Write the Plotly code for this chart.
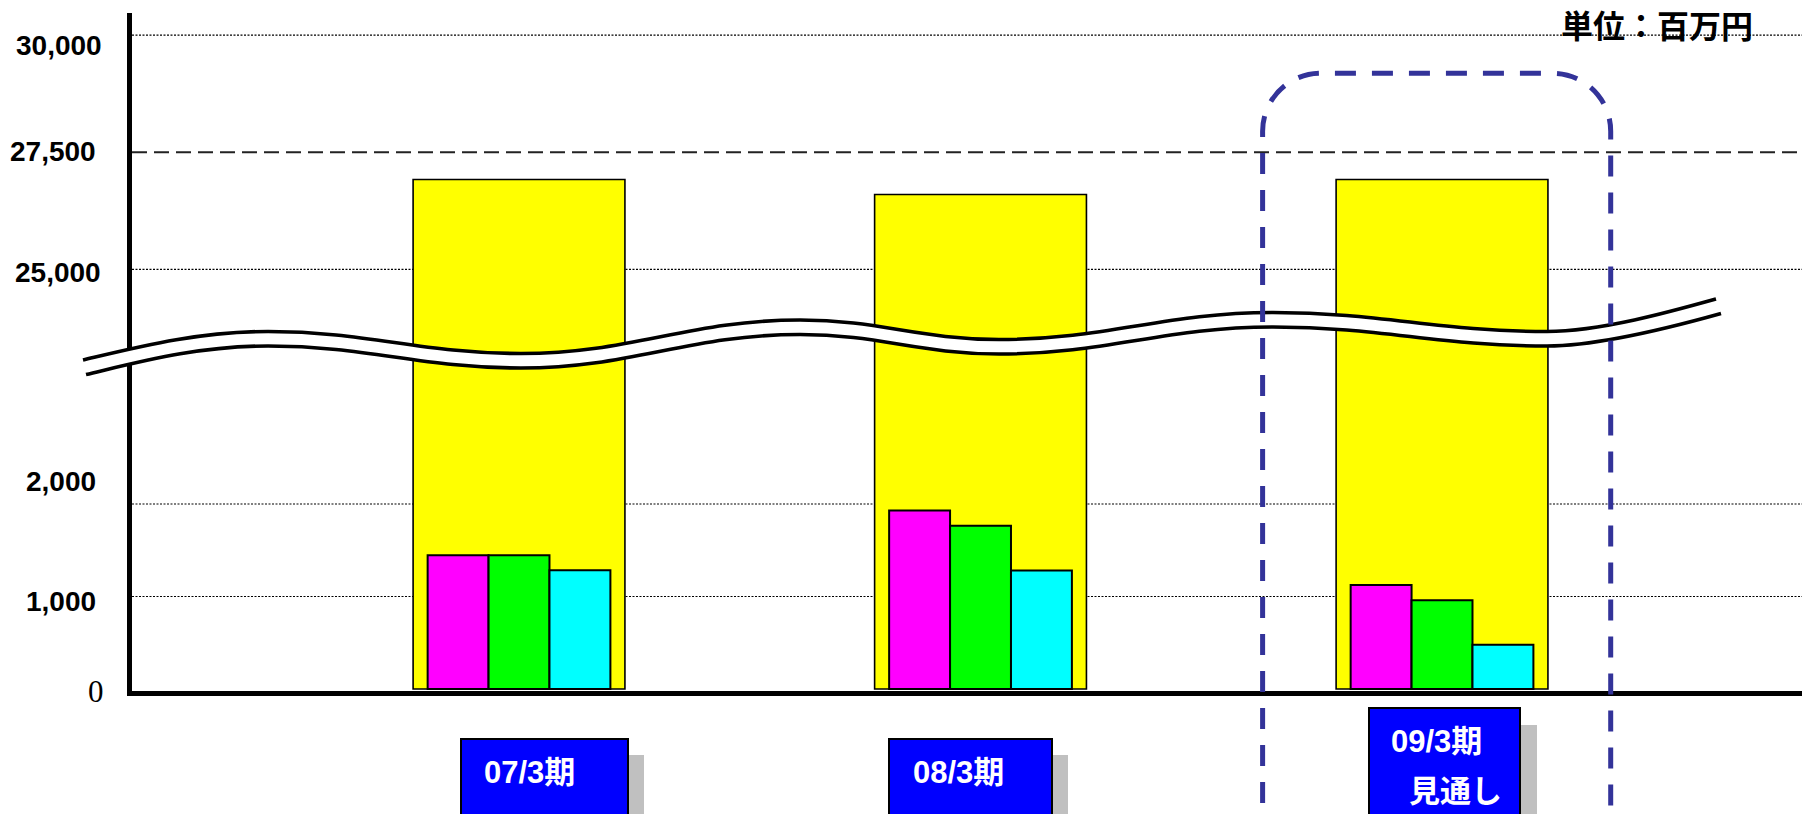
import plotly.graph_objects as go

# ---- data (百万円) ----
categories = ["07/3期", "08/3期", "09/3期"]
sales = [26920, 26600, 26920]
operating_profit = [1445, 1930, 1125]
ordinary_profit = [1445, 1765, 960]
net_profit = [1285, 1280, 480]

lower_ticks = [0, 1000, 2000]
upper_ticks = [25000, 27500, 30000]
box_lines = [["07/3期"], ["08/3期"], ["09/3期", "見通し"]]
unit_text = "単位：百万円"

# ---- canvas geometry (pixels) ----
W, H = 1802, 814
L, R, T, B = 132, 1802, 0, 691


def fx(p):
    return (p - L) / (R - L)


def fy(p):
    return (B - p) / (B - T)


SEAM = 345          # where the lower and upper panels meet (hidden under the wave)
AXIS_TOP = 13

fig = go.Figure()

# yellow totals: drawn in both panels so the bar continues across the break
for axis in ("y", "y2"):
    fig.add_trace(go.Bar(
        x=categories, y=sales, yaxis=axis, name="売上高",
        width=0.459,
        marker=dict(color="#FFFF00", line=dict(color="black", width=1.6)),
        showlegend=False, hoverinfo="skip",
    ))

small_series = [
    (operating_profit, "#FF00FF", "営業利益", -0.198),
    (ordinary_profit, "#00FF00", "経常利益", -0.066),
    (net_profit, "#00FFFF", "当期純利益", 0.066),
]
for vals, col, name, off in small_series:
    fig.add_trace(go.Bar(
        x=categories, y=vals, yaxis="y", name=name,
        width=0.132, offset=off,
        marker=dict(color=col, line=dict(color="black", width=2)),
        showlegend=False, hoverinfo="skip",
    ))

shapes = []

# horizontal guide lines (behind the bars)
dotted = dict(color="black", width=1.2, dash="2px,1.5px")
for v in lower_ticks[1:]:
    shapes.append(dict(type="line", xref="paper", yref="y", x0=0, x1=1, y0=v, y1=v,
                       line=dotted, layer="below"))
for v in upper_ticks:
    if v == 27500:
        shapes.append(dict(type="line", xref="paper", yref="y2", x0=0, x1=1, y0=v, y1=v,
                           line=dict(color="#222222", width=2, dash="15px,7px"), layer="below"))
    else:
        shapes.append(dict(type="line", xref="paper", yref="y2", x0=0, x1=1, y0=v, y1=v,
                           line=dotted, layer="below"))


# ---- wavy break band ----
def pt(x, y):
    return f"{fx(x):.5f},{fy(y):.5f}"


EXTREMA = [(268, 331.5), (521, 353.5), (800, 320), (999, 339.5), (1273, 312.5), (1547, 331.5)]


def wave(dy, dx0=0.0, dx1=0.0):
    start = (83 + dx0, 360 + dy)
    segs = [((138 + dx0, 347 + dy), (198, EXTREMA[0][1] + dy), (EXTREMA[0][0], EXTREMA[0][1] + dy))]
    for (x0, y0), (x1, y1) in zip(EXTREMA[:-1], EXTREMA[1:]):
        d = x1 - x0
        segs.append(((x0 + 0.4 * d, y0 + dy), (x1 - 0.4 * d, y1 + dy), (x1, y1 + dy)))
    segs.append(((1600, 331.5 + dy), (1671 + dx1, 311.6 + dy), (1716 + dx1, 299 + dy)))
    return start, segs


def forward(start, segs):
    s = f"M {pt(*start)}"
    for c1, c2, e in segs:
        s += f" C {pt(*c1)} {pt(*c2)} {pt(*e)}"
    return s


def backward(start, segs):
    pts = [start] + [e for _, _, e in segs]
    s = ""
    for i in range(len(segs) - 1, -1, -1):
        c1, c2, _ = segs[i]
        s += f" C {pt(*c2)} {pt(*c1)} {pt(*pts[i])}"
    return s


up_start, up_segs = wave(0)
lo_start, lo_segs = wave(14.5, 3, 5)
band = forward(up_start, up_segs) + f" L {pt(*lo_segs[-1][2])}" + backward(lo_start, lo_segs) + " Z"
shapes.append(dict(type="path", xref="paper", yref="paper", path=band,
                   fillcolor="white", line=dict(width=0), layer="above"))
for st, sg in ((up_start, up_segs), (lo_start, lo_segs)):
    shapes.append(dict(type="path", xref="paper", yref="paper", path=forward(st, sg),
                       line=dict(color="black", width=3.6), layer="above"))

# ---- dashed rounded frame around the forecast period ----
fl, fr, ft, fb, rad = 1262.6, 1610.7, 73.3, 840, 58
k = 0.5523 * rad
frame = (f"M {pt(fl, fb)} L {pt(fl, ft + rad)}"
         f" C {pt(fl, ft + rad - k)} {pt(fl + rad - k, ft)} {pt(fl + rad, ft)}"
         f" L {pt(fr - rad, ft)}"
         f" C {pt(fr - rad + k, ft)} {pt(fr, ft + rad - k)} {pt(fr, ft + rad)}"
         f" L {pt(fr, fb)}")
shapes.append(dict(type="path", xref="paper", yref="paper", path=frame,
                   line=dict(color="#333399", width=5, dash="21px,16px"), layer="above"))

# ---- category label boxes (blue with grey drop shadow) ----
box_geom = [
    dict(x0=461, x1=628, top=739, sh=16, text=[(529, 772)]),
    dict(x0=889, x1=1052, top=739, sh=16, text=[(958, 772)]),
    dict(x0=1369, x1=1520, top=708, sh=17, text=[(1436.5, 741.5), (1455.5, 791)]),
]
annotations = []
label_font = dict(family="Liberation Sans, Noto Sans CJK JP", size=31, color="white", weight="bold")
for g, lines in zip(box_geom, box_lines):
    bottom = 860
    shapes.append(dict(type="rect", xref="paper", yref="paper",
                       x0=fx(g["x0"] + g["sh"]), x1=fx(g["x1"] + g["sh"]),
                       y0=fy(bottom), y1=fy(g["top"] + g["sh"]),
                       fillcolor="#C0C0C0", line=dict(width=0), layer="above"))
    shapes.append(dict(type="rect", xref="paper", yref="paper",
                       x0=fx(g["x0"]), x1=fx(g["x1"]), y0=fy(bottom), y1=fy(g["top"]),
                       fillcolor="#0000FF", line=dict(color="black", width=2), layer="above"))
    for (cx, cy), txt in zip(g["text"], lines):
        annotations.append(dict(xref="paper", yref="paper", x=fx(cx), y=fy(cy),
                                xanchor="center", yanchor="middle", text=txt,
                                showarrow=False, font=label_font))

# ---- value-axis labels ----
tick_place = {  # right edge (px), vertical offset of the label centre (px), font
    0: (106, 2, dict(family="Liberation Serif", size=31, color="black")),
    1000: (98, 5, None),
    2000: (98, -22, None),
    25000: (103, 3, None),
    27500: (98, -1, None),
    30000: (104, 10.5, None),
}
num_font = dict(family="Liberation Sans, Arial", size=28, color="black", weight="bold")
for ref, ticks in (("y", lower_ticks), ("y2", upper_ticks)):
    for v in ticks:
        right, dy, font = tick_place[v]
        annotations.append(dict(xref="paper", yref=ref, x=fx(right), y=v, yshift=-dy,
                                xanchor="right", yanchor="middle", text=f"{v:,}",
                                showarrow=False, font=font or num_font))

annotations.append(dict(xref="paper", yref="paper", x=fx(1657), y=1,
                        xanchor="center", yanchor="top", borderpad=0, text=unit_text,
                        showarrow=False,
                        font=dict(family="Noto Sans CJK JP", size=32, color="black", weight="bold")))

axis_line = dict(showline=True, linewidth=5, linecolor="black", showgrid=False,
                 zeroline=False, showticklabels=False, ticks="", fixedrange=True)

fig.update_layout(
    width=W, height=H,
    margin=dict(l=L, r=W - R, t=T, b=H - B),
    paper_bgcolor="white", plot_bgcolor="white",
    barmode="overlay", hovermode=False, showlegend=False,
    xaxis=dict(type="category", range=[-0.8386, 2.78], anchor="y", **axis_line),
    yaxis=dict(domain=[0, fy(SEAM)], range=[-21, 3718], anchor="x", **axis_line),
    yaxis2=dict(domain=[fy(SEAM), fy(AXIS_TOP)], range=[23388, 30473], anchor="x", **axis_line),
    shapes=shapes,
    annotations=annotations,
)

fig.write_html("out.html", config={"displayModeBar": False})
